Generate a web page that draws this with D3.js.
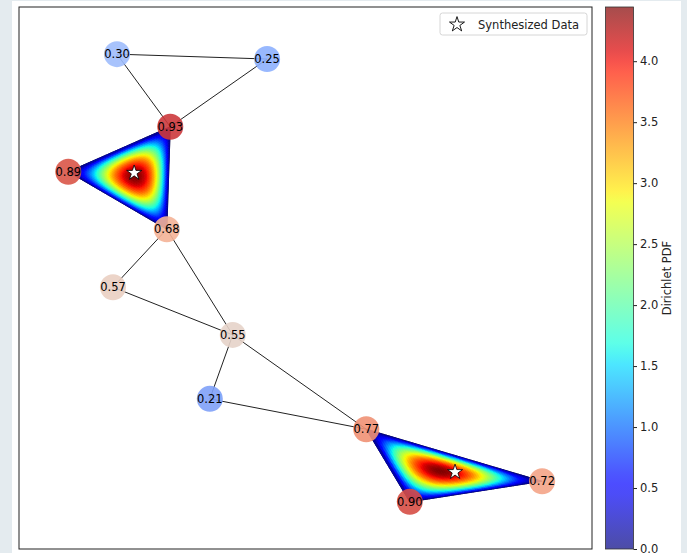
<!DOCTYPE html>
<html>
<head>
<meta charset="utf-8">
<script src="https://cdn.jsdelivr.net/npm/d3@7"></script>
<style>
  html, body { margin: 0; padding: 0; background: #e4ebef; }
  svg { display: block; font-family: "DejaVu Sans", sans-serif; }
</style>
</head>
<body>
<div id="chart"></div>
<script>
// ノードの値とレイアウト座標 (0..1)
const nodeLabels = ['0.30', '0.25', '0.93', '0.89', '0.68', '0.57', '0.55', '0.21', '0.77', '0.90', '0.72'];
const nodeValues = [0.30, 0.25, 0.93, 0.89, 0.68, 0.57, 0.55, 0.21, 0.77, 0.90, 0.72];
const nodeX = [0.171, 0.433, 0.264, 0.086, 0.258, 0.164, 0.373, 0.333, 0.606, 0.682, 0.913];
const nodeY = [0.913, 0.904, 0.779, 0.696, 0.590, 0.483, 0.395, 0.277, 0.221, 0.087, 0.125];
const edges = [[0, 1], [0, 2], [1, 2], [2, 3], [3, 4], [2, 4], [4, 5], [4, 6], [5, 6],
               [6, 7], [6, 8], [7, 8], [8, 9], [8, 10], [9, 10]];
// 単体 (三角形) とディリクレ分布のパラメータ
const simplices = [[2, 3, 4], [8, 9, 10]];
const dirichletAlpha = [2, 2, 2];
// 合成データ
const starX = [0.201, 0.761];
const starY = [0.694, 0.142];
const cbTicks = [0, 0.5, 1, 1.5, 2, 2.5, 3, 3.5, 4];

const W = 687, H = 553;
const plot = { left: 19, right: 592, top: 7, bottom: 549 };
const cb = { left: 605.5, right: 633.5 };
const N = 60;

const svg = d3.select('#chart').append('svg')
    .attr('width', W)
    .attr('height', H);

svg.append('rect')
    .attr('x', 12).attr('y', 1)
    .attr('width', 669).attr('height', H - 1)
    .attr('fill', '#fff');

const x = d3.scaleLinear().domain([0, 1]).range([plot.left, plot.right]);
const y = d3.scaleLinear().domain([0, 1]).range([plot.bottom, plot.top]);

// jet カラーマップ
const jetR = d3.scaleLinear().domain([0, 0.35, 0.66, 0.89, 1]).range([0, 0, 1, 1, 0.5]).clamp(true);
const jetG = d3.scaleLinear().domain([0, 0.125, 0.375, 0.64, 0.91, 1]).range([0, 0, 1, 1, 0, 0]).clamp(true);
const jetB = d3.scaleLinear().domain([0, 0.11, 0.34, 0.65, 1]).range([0.5, 1, 1, 0, 0]).clamp(true);
const jet = t => d3.rgb(jetR(t) * 255, jetG(t) * 255, jetB(t) * 255).formatHex();

// coolwarm カラーマップ
const coolwarm = d3.scaleLinear()
    .domain([0, 0.125, 0.25, 0.375, 0.5, 0.625, 0.75, 0.875, 1])
    .range(['#3b4cc0', '#6282ea', '#8db0fe', '#b8d0f9', '#dddcdc', '#f4c5ad', '#f49a7b', '#de604d', '#b40426'])
    .interpolate(d3.interpolateRgb);

// ディリクレ分布の確率密度
function gamma(z) {
    const g = 7;
    const c = [0.99999999999980993, 676.5203681218851, -1259.1392167224028, 771.32342877765313,
        -176.61503916999185, 12.507343278686905, -0.13857109526572012, 9.9843695780195716e-6, 1.5056327351493116e-7];
    if (z < 0.5) return Math.PI / (Math.sin(Math.PI * z) * gamma(1 - z));
    z -= 1;
    let a = c[0];
    const t = z + g + 0.5;
    for (let i = 1; i < g + 2; i++) a += c[i] / (z + i);
    return Math.sqrt(2 * Math.PI) * Math.pow(t, z + 0.5) * Math.exp(-t) * a;
}
const aSum = d3.sum(dirichletAlpha);
const norm = gamma(aSum) / dirichletAlpha.reduce((p, a) => p * gamma(a), 1);
const pdf = b => norm * b.reduce((p, v, i) => p * Math.pow(v, dirichletAlpha[i] - 1), 1);
const mode = dirichletAlpha.map(a => (a - 1) / (aSum - dirichletAlpha.length));
const pdfMax = pdf(mode);
const cbScale = d3.scaleLinear().domain([0, pdfMax]).range([plot.bottom, plot.top]);

// エッジ
svg.append('g')
    .selectAll('line')
    .data(edges)
    .join('line')
    .attr('x1', d => x(nodeX[d[0]]))
    .attr('y1', d => y(nodeY[d[0]]))
    .attr('x2', d => x(nodeX[d[1]]))
    .attr('y2', d => y(nodeY[d[1]]))
    .attr('stroke', '#222')
    .attr('stroke-width', 1);

// 単体のヒートマップ
simplices.forEach(tri => {
    const P = tri.map(i => [x(nodeX[i]), y(nodeY[i])]);
    const pt = (a, b) => {
        const c = 1 - a - b;
        return [a * P[0][0] + b * P[1][0] + c * P[2][0], a * P[0][1] + b * P[1][1] + c * P[2][1]];
    };
    const cells = [];
    for (let i = 0; i < N; i++) {
        for (let j = 0; j < N - i; j++) {
            cells.push({
                pts: [pt(i / N, j / N), pt((i + 1) / N, j / N), pt(i / N, (j + 1) / N)],
                bary: [(i + 1 / 3) / N, (j + 1 / 3) / N]
            });
            if (i + j <= N - 2) {
                cells.push({
                    pts: [pt((i + 1) / N, j / N), pt(i / N, (j + 1) / N), pt((i + 1) / N, (j + 1) / N)],
                    bary: [(i + 2 / 3) / N, (j + 2 / 3) / N]
                });
            }
        }
    }
    cells.forEach(d => {
        const b = [d.bary[0], d.bary[1], 1 - d.bary[0] - d.bary[1]];
        d.color = jet(pdf(b) / pdfMax);
    });
    svg.append('g')
        .selectAll('path')
        .data(cells)
        .join('path')
        .attr('d', d => 'M' + d.pts.map(p => p.join(',')).join('L') + 'Z')
        .attr('fill', d => d.color)
        .attr('stroke', d => d.color)
        .attr('stroke-width', 0.6);
});

// ノード
const nodes = nodeValues.map((v, i) => ({ v, label: nodeLabels[i], x: nodeX[i], y: nodeY[i] }));
svg.append('g')
    .selectAll('circle')
    .data(nodes)
    .join('circle')
    .attr('cx', d => x(d.x))
    .attr('cy', d => y(d.y))
    .attr('r', 13)
    .attr('fill', d => coolwarm(d.v))
    .attr('fill-opacity', 0.9);

svg.append('g')
    .selectAll('text')
    .data(nodes)
    .join('text')
    .attr('x', d => x(d.x))
    .attr('y', d => y(d.y))
    .attr('dy', '0.36em')
    .attr('text-anchor', 'middle')
    .style('font-size', '11.5px')
    .attr('fill', '#000')
    .text(d => d.label);

// 合成データの星
const star = d3.symbol().type(d3.symbolStar).size(70);
svg.append('g')
    .selectAll('path')
    .data(starX.map((sx, i) => [sx, starY[i]]))
    .join('path')
    .attr('transform', d => `translate(${x(d[0])},${y(d[1])})`)
    .attr('d', star)
    .attr('fill', '#fff')
    .attr('stroke', '#000')
    .attr('stroke-width', 0.8);

// 枠
svg.append('rect')
    .attr('x', plot.left).attr('y', plot.top)
    .attr('width', plot.right - plot.left)
    .attr('height', plot.bottom - plot.top)
    .attr('fill', 'none')
    .attr('stroke', '#222')
    .attr('stroke-width', 1);

// 凡例
const legend = svg.append('g').attr('transform', 'translate(440,13)');
legend.append('rect')
    .attr('width', 147).attr('height', 22).attr('rx', 2.5)
    .attr('fill', '#fff').attr('fill-opacity', 0.8)
    .attr('stroke', '#d6d6d6');
legend.append('path')
    .attr('transform', 'translate(17,11.5)')
    .attr('d', star)
    .attr('fill', '#fff')
    .attr('stroke', '#000')
    .attr('stroke-width', 0.9);
legend.append('text')
    .attr('x', 38).attr('y', 15.5)
    .style('font-size', '11.5px')
    .attr('fill', '#222')
    .text('Synthesized Data');

// カラーバー
const grad = svg.append('defs').append('linearGradient')
    .attr('id', 'jetGrad')
    .attr('x1', 0).attr('y1', 1).attr('x2', 0).attr('y2', 0);
d3.range(0, 1.0001, 0.02).forEach(t => {
    grad.append('stop')
        .attr('offset', t)
        .attr('stop-color', jet(t))
        .attr('stop-opacity', 0.7);
});
svg.append('rect')
    .attr('x', cb.left).attr('y', plot.top)
    .attr('width', cb.right - cb.left)
    .attr('height', plot.bottom - plot.top)
    .attr('fill', 'url(#jetGrad)')
    .attr('stroke', '#333')
    .attr('stroke-width', 0.8);

const cbAxis = svg.append('g')
    .attr('transform', `translate(${cb.right},0)`)
    .call(d3.axisRight(cbScale).tickValues(cbTicks).tickFormat(d3.format('.1f')).tickSize(3.5).tickPadding(3));
cbAxis.select('.domain').remove();
cbAxis.selectAll('text')
    .style('font-family', '"DejaVu Sans", sans-serif')
    .style('font-size', '11.5px')
    .attr('fill', '#222');
cbAxis.selectAll('line').attr('stroke', '#222');

svg.append('text')
    .attr('transform', `translate(671,${(plot.top + plot.bottom) / 2}) rotate(-90)`)
    .attr('text-anchor', 'middle')
    .style('font-size', '11.5px')
    .attr('fill', '#222')
    .text('Dirichlet PDF');
</script>
</body>
</html>
